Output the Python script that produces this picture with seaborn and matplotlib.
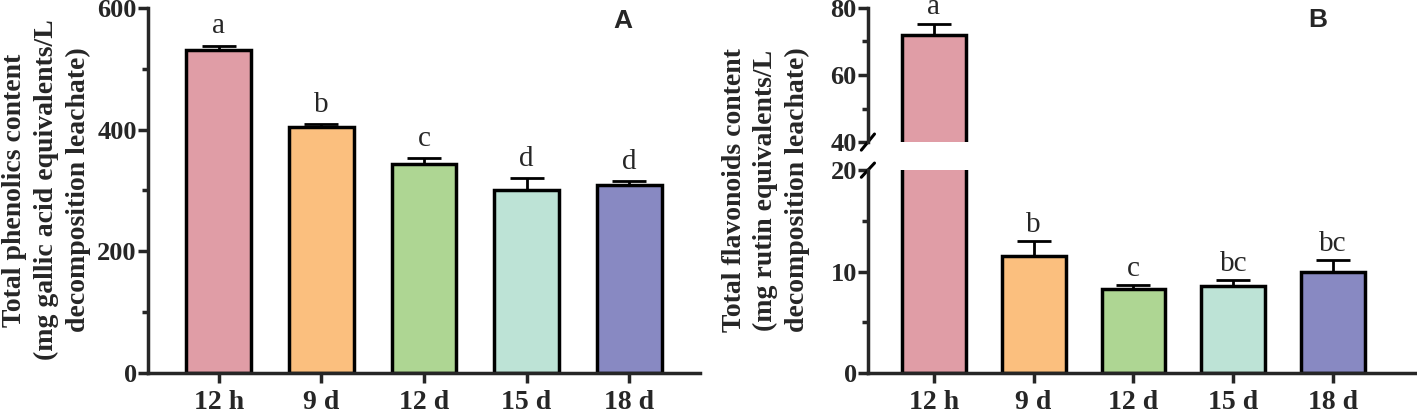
import numpy as np
import pandas as pd
import seaborn as sns
import matplotlib.pyplot as plt

# data
groups = ['12 h', '9 d', '12 d', '15 d', '18 d']
phenolics = [530, 405, 343, 300, 309]
phenolics_err = [8, 4, 10, 20, 6]
phenolics_sig = ['a', 'b', 'c', 'd', 'd']
flavonoids = [71.8, 11.5, 8.3, 8.6, 10.0]
flavonoids_err = [3.3, 1.5, 0.4, 0.6, 1.1]
flavonoids_sig = ['a', 'b', 'c', 'bc', 'bc']
colors = ['#E09DA6', '#FBBF7E', '#AED693', '#BDE3D6', '#8889C2']

sns.set_style('ticks')
plt.rcParams['font.family'] = ['Liberation Serif', 'DejaVu Serif']
plt.rcParams['font.weight'] = 'bold'

LW = 2.5
df_a = pd.DataFrame({'group': groups, 'value': phenolics})
df_b = pd.DataFrame({'group': groups, 'value': flavonoids})


def style_axis(ax, show_x=True):
    for side in ['top', 'right']:
        ax.spines[side].set_visible(False)
    for side in ['left', 'bottom']:
        ax.spines[side].set_linewidth(LW)
    ax.tick_params(axis='y', which='major', length=7, width=LW,
                   labelsize=19, direction='out', pad=1)
    ax.tick_params(axis='x', which='major', length=7, width=LW,
                   labelsize=20, direction='out', pad=5)
    ax.tick_params(axis='y', which='minor', length=4.5, width=LW)
    for lab in ax.get_yticklabels() + ax.get_xticklabels():
        lab.set_fontweight('bold')
    ax.set_xlabel('')
    ax.set_ylabel('')
    if not show_x:
        ax.spines['bottom'].set_visible(False)
        ax.tick_params(axis='x', which='both', bottom=False, labelbottom=False)


def draw_bars(ax, df, err, width):
    sns.barplot(data=df, x='group', y='value', hue='group', palette=colors,
                edgecolor='black', linewidth=LW, width=width, legend=False,
                ax=ax, saturation=1)
    x = np.arange(len(df))
    ax.errorbar(x, df['value'], yerr=[np.zeros(len(err)), err], fmt='none',
                ecolor='black', elinewidth=2, capsize=12, capthick=2, zorder=1)


fig = plt.figure(figsize=(14.17, 4.13), dpi=100)

# panel A
ax_a = fig.add_axes([0.1044, 0.097, 0.3896, 0.884])
draw_bars(ax_a, df_a, phenolics_err, 0.63)
ax_a.set_ylim(0, 600)
ax_a.set_xlim(-0.69, 4.69)
ax_a.set_yticks([0, 200, 400, 600])
ax_a.set_yticks([100, 300, 500], minor=True)
style_axis(ax_a)
for i, s in enumerate(phenolics_sig):
    ax_a.text(i, phenolics[i] + phenolics_err[i] + 10, s, ha='center',
              va='bottom', fontsize=21, fontweight='normal')
ax_a.text(0.86, 0.965, 'A', transform=ax_a.transAxes, fontsize=19,
          fontweight='bold', family='Liberation Sans', ha='center', va='center')
fig.text(0.033, 0.54, 'Total phenolics content\n(mg gallic acid equivalents/L\ndecomposition leachate)',
         rotation=90, ha='center', va='center', fontsize=20, fontweight='bold',
         linespacing=1.35)

# panel B, broken axis
ax_bl = fig.add_axes([0.6125, 0.097, 0.3875, 0.491])
ax_bu = fig.add_axes([0.6125, 0.656, 0.3875, 0.325])
draw_bars(ax_bl, df_b, flavonoids_err, 0.64)
draw_bars(ax_bu, df_b, flavonoids_err, 0.64)
for ax in (ax_bl, ax_bu):
    ax.set_xlim(-0.66, 4.84)
ax_bl.set_ylim(0, 20)
ax_bl.set_yticks([0, 10, 20])
ax_bl.set_yticks([5, 15], minor=True)
ax_bu.set_ylim(40, 80)
ax_bu.set_yticks([40, 60, 80])
ax_bu.set_yticks([50, 70], minor=True)
style_axis(ax_bl)
style_axis(ax_bu, show_x=False)
for i, s in enumerate(flavonoids_sig):
    if i == 0:
        ax_bu.text(i, flavonoids[i] + flavonoids_err[i] + 1.2, s, ha='center',
                   va='bottom', fontsize=21, fontweight='normal', clip_on=False)
    else:
        ax_bl.text(i, flavonoids[i] + flavonoids_err[i] + 0.3, s, ha='center',
                   va='bottom', fontsize=21, fontweight='normal')
ax_bu.text(0.82, 0.91, 'B', transform=ax_bu.transAxes, fontsize=19,
           fontweight='bold', family='Liberation Sans', ha='center', va='center')

# break marks on the y axis
d = 0.012
kw = dict(color='black', lw=2.2, clip_on=False)
ax_bu.plot([-d, d], [-0.06, 0.06], transform=ax_bu.transAxes, **kw)
ax_bl.plot([-d, d], [0.965, 1.035], transform=ax_bl.transAxes, **kw)

fig.text(0.5405, 0.54, 'Total flavonoids content\n(mg rutin equivalents/L\ndecomposition leachate)',
         rotation=90, ha='center', va='center', fontsize=20, fontweight='bold',
         linespacing=1.35)

fig.savefig('out.png', dpi=100)
